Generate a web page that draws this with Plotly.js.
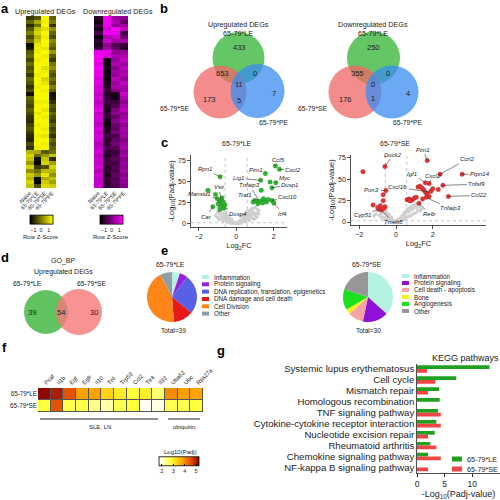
<!DOCTYPE html>
<html><head><meta charset="utf-8">
<script src="https://cdn.plot.ly/plotly-3.0.1.min.js"></script>
<style>html,body{margin:0;padding:0;background:#fff}#chart{width:500px;height:500px}</style>
</head><body><div id="chart"></div>
<script>
// ---------------- DATA ----------------
// a: heatmaps (row Z-scores), one array per column, rows top->bottom
const heatCols = ['Naive','65-79*LE','65-79*SE','65-79*PE'];
const upNaive = [-0.8,-0.3,-1.0,-0.5,0.0,-0.6,-0.2,-1.4,-1.2,-0.5,-0.3,-0.7,-0.2,-0.6,-0.4,-0.8,-0.3,-0.5,-0.9,-0.6,-1.3,-0.3,-0.5,-0.7,-0.4,-0.6,-0.9,-1.0,-0.7,-0.5,-0.8,-1.0,-1.1,-0.6,-0.9,0.6,1.0,0.8,0.3,1.0,0.2,0.9,0.6,1.0,0.8];
const upLE    = [-0.5,0.5,-0.2,0.8,1.0,0.6,0.9,1.2,1.3,1.3,1.4,1.3,1.4,1.4,1.4,1.3,1.4,1.4,1.3,1.4,1.4,1.4,1.3,1.4,1.4,1.2,1.4,1.4,1.3,1.4,1.4,1.3,1.4,1.4,1.3,0.5,-0.3,-1.3,-1.5,-0.8,-0.2,0.3,-1.4,-1.5,-0.6];
const upSE    = [1.4,1.3,1.4,1.1,1.4,1.3,1.4,1.4,1.2,1.4,1.3,1.4,1.4,1.1,1.3,1.4,1.0,1.2,1.4,1.3,1.4,1.4,1.3,1.4,1.2,1.4,1.3,1.4,1.4,1.3,1.4,1.2,1.4,1.3,1.4,-0.5,0.3,0.8,1.0,-0.6,0.7,1.2,0.5,0.9,1.1];
const upPE    = [-0.4,-0.1,-0.9,0.2,-0.3,-0.6,0.1,-0.2,-0.5,0.3,-0.4,-0.8,-0.1,0.2,-0.3,-0.6,-0.2,-0.5,0.0,-0.4,-1.3,-1.2,-0.9,-0.5,-0.7,-0.3,-0.6,-0.8,-0.4,-0.7,-0.5,-0.9,-0.3,-0.6,-0.4,-0.2,0.8,-1.0,0.4,1.0,0.6,0.2,0.8,0.4,0.9];
const dnNaive = [-1.0,-1.3,-0.8,-1.2,-0.6,-1.4,-0.9,-1.1,-0.7,1.2,1.4,1.3,1.1,1.4,1.2,1.3,1.0,1.2,0.9,1.1,0.8,1.0,0.7,0.9,1.2,0.8,1.0,0.9,0.7,1.1,0.8,1.0,0.9,0.6,0.8,1.0,0.7,0.9,0.8,1.0,0.6,0.9,0.7,0.8,0.9];
const dnLE    = [1.3,1.4,1.2,1.0,1.3,0.6,0.9,0.2,0.5,1.2,1.0,-1.3,-1.4,-1.2,-1.5,-1.3,-1.4,-1.2,-1.0,-0.8,-1.1,-0.9,-0.7,-1.0,-1.2,-0.8,-0.9,-1.3,-1.4,-1.1,-0.9,-0.7,-1.0,-0.8,-0.6,-0.9,-1.1,-0.8,-0.7,-1.0,-0.9,-1.2,-0.8,-1.0,-0.9];
const dnSE    = [0.3,0.6,0.2,1.4,1.3,0.9,0.4,-0.6,-0.3,0.2,0.5,0.3,0.6,0.1,0.4,0.2,0.7,0.3,0.5,0.1,-1.2,-1.3,-0.8,-0.5,0.0,0.2,-0.3,0.1,-0.2,-0.4,0.0,-0.6,-0.3,-0.1,-0.5,-0.8,-0.6,-0.4,-0.7,-0.5,-0.6,-0.3,-0.5,-0.4,-0.6];
const dnPE    = [0.2,-0.3,0.4,0.8,-0.7,-0.2,0.5,-0.8,-1.0,0.3,0.6,0.8,0.4,0.7,0.5,0.6,0.3,0.8,0.5,0.4,0.9,0.6,0.2,0.5,0.7,0.3,0.4,0.6,0.2,0.5,0.3,0.4,0.1,0.3,0.5,0.2,0.4,0.1,0.3,0.2,0.4,0.0,0.3,0.2,0.1];

// b: Venn counts (regions: LE only, LE&SE, LE&PE, all three, SE only, SE&PE, PE only)
const vennUpCounts   = [433,653,0,11,173,5,7];
const vennDownCounts = [250,355,0,0,176,1,4];

// c: volcano plots
const greyLx = [-0.05,0.1,-0.2,0.25,-0.35,0.4,-0.45,0.5,0.15,-0.15,0.3,-0.3,0.05,-0.5,0.55,-0.1,0.2,-0.25,0.35,-0.4,0.45,0.0,0.6,-0.55,0.7,-0.7,0.8,-0.8,0.9,1.0,-0.9,1.1,0.65,-0.65,0.75,0.85,0.95,1.05,-0.75,-0.6,0.3,-0.3,0.1,-0.1,0.5,-0.5,0.2,-0.2,0.4,-0.4,1.2,-1.0,0.55,-0.45,0.25,
  -1.1,-1.0,-0.9,-0.8,-0.7,-0.6,-0.5,-0.4,-0.3,-0.2,-0.1,0,0.1,0.2,0.3,0.4,0.5,0.6,0.7,0.8,0.9,1.0,1.1,1.2,-0.9,-0.7,-0.5,-0.3,-0.1,0.1,0.3,0.5,0.7,0.9,1.1,-0.8,-0.6,0.6,0.8,1.0];
const greyLy = [1,2,3,4,6,7,9,10,3,2,5,5,1,11,13,1,4,6,8,9,11,0.5,15,14,16,17,18,18,19,20,16,18,12,13,14,15,13,12,12,10,2,3,2,1,6,7,1,2,4,5,16,14,8,4,9,
  10,8,12,9,7,6,4,3,2,1.5,1,0.8,1,2,3,4,5,7,9,11,12,10,13,12,5,3,2,1,0.5,0.6,1.2,2.5,4,6,8,7,9,10,8,6];
const greenLx = [-0.85,-1.5,-1.24,-0.87,-1.0,-0.9,-0.8,-0.7,-0.65,-0.95,-0.75,-1.1,-0.85,-0.7,-0.6,1.55,2.08,2.3,1.3,1.8,2.1,1.9,1.33,1.0,1.1,1.2,1.3,1.4,1.5,1.6,1.7,1.9,2.0,1.15,1.45,0.9];
const greenLy = [56,40,20.6,17,30,25,28,22,19,24,31,35,20,26,23,60,69,65,52,50,49,43,40,28,27,26,27,25,28,26,29,28,25,24,30,26];
const labelsLE = ['Rpn1','Vsir','Mansid1','Car','Dusp4','Lig1','Tnfaip3','Traf1','Pim1','Ccl5','Cxcl2','Myc','Dusp1','Cxcl10','Irf4'];
const labelsLEx = [-0.85,-0.8,-1.0,-1.24,-0.6,1.3,1.2,1.0,1.55,2.08,2.3,2.1,1.9,1.9,2.0];
const labelsLEy = [56,28,30,20.6,19,52,28,27,60,69,65,49,43,28,25];

const greyRx = [-0.05,0.1,-0.2,0.25,-0.35,0.4,-0.45,0.5,0.15,-0.15,0.3,-0.3,0.05,-0.5,0.55,-0.1,0.2,-0.25,0.35,-0.4,0.45,0.0,0.6,-0.55,0.7,-0.7,0.8,-0.8,0.9,1.0,-0.9,1.1,0.65,-0.65,0.75,0.85,0.95,1.05,-0.75,-0.6,1.2,1.3,-1.0,0.3,-0.3,0.1,-0.1,0.5,-0.5,0.2,
  -1.1,-0.9,-0.7,-0.5,-0.3,-0.1,0.1,0.3,0.5,0.7,0.9,1.1,1.3,-0.8,-0.6,-0.4,-0.2,0,0.2,0.4,0.6,0.8,1.0,1.2,1.4,0.9,1.1,-1.2,-0.8,0.7];
const greyRy = [1,2,3,4,6,7,8,9,3,2,5,5,1,10,12,1,4,6,8,9,11,0.5,14,13,16,15,18,16,19,20,15,21,12,11,14,15,17,18,12,10,20,18,13,2,3,2,1,6,7,1,
  9,8,6,4,2,1,1,2,4,7,9,11,13,5,3,1.5,0.8,0.6,1.2,2.5,5,7,10,14,15,15,17,7,10,12];
const redRx = [-0.6,-1.8,1.7,2.4,3.6,2.55,2.85,1.6,1.8,-0.55,-0.7,-0.7,-1.25,-0.9,-1.0,-0.8,-0.6,-0.65,-0.85,0.6,0.7,0.8,0.9,1.0,1.1,1.2,1.3,1.4,1.5,1.6,1.7,1.8,1.9,2.0,2.3,1.25,1.45,1.65,0.75];
const redRy = [65,59,72,56,56,43,30,46,45,37,32,25,20,15,17,14,18,16,19,26,27,25,26,28,29,41,42,40,38,35,33,30,36,39,38,22,27,29,25];
const labelsSE = ['Dock2','Pim1','Ccrl2','Ptpn14','Tnfsf9','Ccl22','Igf1','Cxcl2','Cxcl16','Pon3','Tnfaip3','Relb','Cyp51','Tmeb5'];
const labelsSEx = [-0.6,1.7,2.4,3.6,2.55,2.85,1.6,1.8,1.85,-0.55,1.7,1.25,-0.9,-0.8];
const labelsSEy = [65,72,56,56,43,30,46,45,35,37,28,22,15,14];

// d: GO_BP Venn (LE only, both, SE only)
const goCounts = [39,54,30];

// e: pies
const pieLELabels = ['Inflammation','Protein signaling','DNA replication, translation, epigenetics','DNA damage and cell death','Cell Division','Other'];
const pieLECounts = [2,2,10,5,17,3];
const pieSELabels = ['Inflammation','Protein signaling','Cell death - apoptosis','Bone','Angiogenesis','Other'];
const pieSECounts = [11,5,3,1,4,6];

// f: heatmap Log10(Padj)
const fGenes = ['Pcaf','Il1b','Egf','Egfr','Il10','Tnf','Trp53','Ccl2','Tlr4','Il33','Uba52','Ubc','Rps27a'];
const fRows = ['65-79*LE','65-79*SE'];
const fLE = [5.2,5.0,4.5,3.8,3.8,3.3,3.0,2.8,3.0,2.5,4.0,3.8,3.8];
const fSE = [2.8,4.5,2.7,2.7,2.4,2.2,2.7,2.8,1.8,1.9,2.7,2.7,2.8];

// g: KEGG
const keggPathways = ['Systemic lupus erythematosus','Cell cycle','Mismatch repair','Homologous recombination','TNF signaling pathway','Cytokine-cytokine receptor interaction','Nucleotide excision repair','Rheumatoid arthritis','Chemokine signaling pathway','NF-kappa B signaling pathway'];
const keggLE = [13.1,7.1,4.0,4.1,3.8,3.5,3.2,2.4,2.0,0];
const keggSE = [1.8,3.3,2.0,0,4.3,4.3,2.0,3.5,4.3,2.0];

// ---------------- STYLE / LAYOUT ----------------
const FONT = 'Liberation Sans, Arial, sans-serif';
const W = 500, H = 500;
const px = v => v / W, py = v => 1 - v / H;
const dx = (a, b) => [px(a), px(b)];
const dy = (top, bot) => [py(bot), py(top)];

const pieLEColors = ['#B5F2E2','#9A1EE0','#5661E6','#E61818','#FF8519','#8F9EA6'];
const pieSEColors = ['#B5F2E2','#9112D6','#F5A3A3','#F3F322','#1BE01B','#979797'];

const ann = [];
const shapes = [];
function T(text, x, y, size, opts) {
  ann.push(Object.assign({text, x: px(x), y: py(y), xref: 'paper', yref: 'paper', showarrow: false,
    font: {size, color: '#222', family: FONT}, xanchor: 'center', yanchor: 'middle'}, opts || {}));
}
function circ(cx, cy, r, color, op) {
  shapes.push({type: 'circle', xref: 'paper', yref: 'paper', x0: px(cx - r), x1: px(cx + r), y0: py(cy + r), y1: py(cy - r),
    fillcolor: color, opacity: op, line: {width: 0}, layer: 'above'});
}
function rect(x0, y0, x1, y1, color) {
  shapes.push({type: 'rect', xref: 'paper', yref: 'paper', x0: px(x0), x1: px(x1), y0: py(y1), y1: py(y0), fillcolor: color, line: {width: 0}});
}
function hline(x0, x1, y) {
  shapes.push({type: 'line', xref: 'paper', yref: 'paper', x0: px(x0), x1: px(x1), y0: py(y), y1: py(y), line: {color: '#222', width: 1}});
}

// panel letters
[['a',5,8],['b',164,8],['c',164,142],['d',5,257],['e',164,250],['f',4,347],['g',221,350]].forEach(l =>
  T('<b>' + l[0] + '</b>', l[1], l[2], 13, {font: {size: 13, color: '#000', family: FONT}}));

// a titles
T('Upregulated DEGs', 45, 11, 7.2);
T('Downregulated DEGs', 118, 11, 7.2);
T('Row Z-Score', 41, 237, 6);
T('Row Z-Score', 111, 237, 6);

// b venns
const vennUpPos = [[239,48],[222,73],[255,73],[239,84],[209,100],[239,101],[274,94]];
const vennDnPos = [[373,48],[357,73],[388,73],[373,84],[345,100],[373,99],[408,94]];
circ(238.5, 58, 26, '#3FB83F', 0.8);
circ(220, 92, 26.5, '#F06565', 0.75);
circ(257.5, 91, 27, '#3A8CF2', 0.75);
circ(373.5, 58, 26.5, '#3FB83F', 0.8);
circ(355, 92, 26.5, '#F06565', 0.75);
circ(392, 92, 26.5, '#3A8CF2', 0.75);
vennUpCounts.forEach((v, i) => T(String(v), vennUpPos[i][0], vennUpPos[i][1], 7.5));
vennDownCounts.forEach((v, i) => T(String(v), vennDnPos[i][0], vennDnPos[i][1], 7.5));
T('Upregulated DEGs', 238, 24, 7.2); T('65-79*LE', 238, 33, 7.2);
T('Downregulated DEGs', 373, 24, 7.2); T('65-79*LE', 373, 33, 7.2);
T('65-79*SE', 175, 109, 6.8); T('65-79*PE', 274, 122, 6.8);
T('65-79*SE', 313, 109, 6.8); T('65-79*PE', 408, 122, 6.8);

// c titles
T('65-79*LE', 237, 143, 7);
T('65-79*SE', 395, 143, 7);

// d venn
T('GO_BP', 63, 261, 7); T('Upregulated DEGs', 63, 272, 7);
T('65-79*LE', 27, 283, 6.8); T('65-79*SE', 92, 283, 6.8);
circ(46, 312, 22, '#44B844', 0.85);
circ(79, 312, 23, '#F77878', 0.8);
[[32,312],[61,312],[94,312]].forEach((p, i) => T(String(goCounts[i]), p[0], p[1], 7.5));

// e titles / legends
T('65-79*LE', 170, 264, 6.8); T('65-79*SE', 367, 264, 6.8);
T('Total=' + pieLECounts.reduce((a, b) => a + b, 0), 173, 330, 6.5);
T('Total=' + pieSECounts.reduce((a, b) => a + b, 0), 368, 330, 6.5);
const legLEy = [277, 284.3, 291.6, 299, 306.3, 313.6];
pieLELabels.forEach((l, i) => { rect(202, legLEy[i] - 2, 209, legLEy[i] + 2, pieLEColors[i]); T(l, 212, legLEy[i], 6.3, {xanchor: 'left'}); });
const legSEy = [276, 283, 290, 297, 304, 311];
pieSELabels.forEach((l, i) => { rect(402, legSEy[i] - 2, 409, legSEy[i] + 2, pieSEColors[i]); T(l, 412, legSEy[i], 6.3, {xanchor: 'left'}); });

// f extras
hline(40, 158, 419); hline(168, 200, 419);
T('SLE, LN', 100, 427, 6); T('ubiquitin', 184, 427, 6);
T('Log10(Padj)', 180, 452, 6);
shapes.push({type: 'rect', xref: 'x5 domain', yref: 'y5 domain', x0: 0, x1: 1, y0: 0, y1: 1, fillcolor: '#555', line: {width: 0}, layer: 'below'});

// g extras
T('KEGG pathways', 465, 358, 9);
rect(452, 456.5, 462, 461.5, '#1FA01F'); T('65-79*LE', 465, 459, 7.2, {xanchor: 'left'});
rect(452, 466.5, 462, 471.5, '#F24444'); T('65-79*SE', 465, 469, 7.2, {xanchor: 'left'});

// volcano dotted threshold lines
['x3', 'x4'].forEach((xa, k) => {
  const ya = k ? 'y4' : 'y3';
  [-0.585, 0.585].forEach(v => shapes.push({type: 'line', xref: xa, yref: ya + ' domain', x0: v, x1: v, y0: 0, y1: 1, line: {color: '#aaa', width: 0.7, dash: 'dot'}, layer: 'below'}));
  shapes.push({type: 'line', xref: xa + ' domain', yref: ya, x0: 0, x1: 1, y0: 1.5, y1: 1.5, line: {color: '#aaa', width: 0.7, dash: 'dot'}, layer: 'below'});
});

// volcano gene labels (text offsets in px)
const offLE = [[-15,-8],[-2,-13],[-18,-5],[-6,10],[13,6],[-22,-2],[-9,-15],[-10,-6],[-9,-4],[3,-6],[14,1],[9,-5],[18,-3],[16,-3],[9,11]];
labelsLE.forEach((n, i) => ann.push({text: '<i>' + n + '</i>', x: labelsLEx[i], y: labelsLEy[i], xref: 'x3', yref: 'y3', ax: offLE[i][0], ay: offLE[i][1],
  showarrow: true, arrowhead: 0, arrowwidth: 0.6, arrowcolor: '#333', standoff: 0, font: {size: 6, color: '#222', family: FONT}}));
const offSE = [[8,-12],[-4,-11],[27,-15],[18,0],[34,-1],[31,-1],[-13,-9],[4,-8],[-32,-5],[-14,0],[23,10],[11,11],[-17,6],[12,12]];
labelsSE.forEach((n, i) => ann.push({text: '<i>' + n + '</i>', x: labelsSEx[i], y: labelsSEy[i], xref: 'x4', yref: 'y4', ax: offSE[i][0], ay: offSE[i][1],
  showarrow: true, arrowhead: 0, arrowwidth: 0.6, arrowcolor: '#333', standoff: 0, font: {size: 6, color: '#222', family: FONT}}));

// ---------------- TRACES ----------------
const rowsOf = cols => cols[0].map((_, r) => cols.map(c => c[r]));
const rowIdx = upNaive.map((_, i) => i);
const cbA = cx => ({orientation: 'h', x: px(cx), xanchor: 'center', y: py(223), yanchor: 'middle', len: 23, lenmode: 'pixels',
  thickness: 9, thicknessmode: 'pixels', tickvals: [-1, 0, 1], ticks: '', tickfont: {size: 5.5, family: FONT, color: '#222'},
  outlinewidth: 0.8, outlinecolor: '#000', xpad: 0, ypad: 0});
const traces = [
  {type: 'heatmap', x: heatCols, y: rowIdx, z: rowsOf([upNaive, upLE, upSE, upPE]), xaxis: 'x', yaxis: 'y', zmin: -1.5, zmax: 1.5,
   colorscale: [[0, '#000000'], [1, '#FFFF00']], colorbar: cbA(41), hoverinfo: 'none'},
  {type: 'heatmap', x: heatCols, y: rowIdx, z: rowsOf([dnNaive, dnLE, dnSE, dnPE]), xaxis: 'x2', yaxis: 'y2', zmin: -1.5, zmax: 1.5,
   colorscale: [[0, '#000000'], [1, '#FF00FF']], colorbar: cbA(111.5), hoverinfo: 'none'},
  {type: 'scatter', mode: 'markers', x: greyLx, y: greyLy, xaxis: 'x3', yaxis: 'y3', marker: {size: 3.5, color: '#cfcfcf'}, hoverinfo: 'none'},
  {type: 'scatter', mode: 'markers', x: greenLx, y: greenLy, xaxis: 'x3', yaxis: 'y3', marker: {size: 4.5, color: '#2DB82D', line: {width: 0.3, color: '#1a6a1a'}}, hoverinfo: 'none'},
  {type: 'scatter', mode: 'markers', x: greyRx, y: greyRy, xaxis: 'x4', yaxis: 'y4', marker: {size: 3.5, color: '#cfcfcf'}, hoverinfo: 'none'},
  {type: 'scatter', mode: 'markers', x: redRx, y: redRy, xaxis: 'x4', yaxis: 'y4', marker: {size: 4.5, color: '#E83333', line: {width: 0.3, color: '#8a1a1a'}}, hoverinfo: 'none'},
  {type: 'pie', labels: pieLELabels, values: pieLECounts, marker: {colors: pieLEColors, line: {width: 0}}, sort: false, direction: 'clockwise', rotation: 0,
   textinfo: 'none', hoverinfo: 'none', domain: {x: dx(147, 197), y: dy(272, 322)}, showlegend: false},
  {type: 'pie', labels: pieSELabels, values: pieSECounts, marker: {colors: pieSEColors, line: {width: 0}}, sort: false, direction: 'clockwise', rotation: 0,
   textinfo: 'none', hoverinfo: 'none', domain: {x: dx(343, 393), y: dy(272, 322)}, showlegend: false},
  {type: 'heatmap', x: fGenes, y: fRows, z: [fLE, fSE], xaxis: 'x5', yaxis: 'y5', zmin: 1.75, zmax: 5.25, xgap: 1, ygap: 1,
   colorscale: [[0, '#FFFFFF'], [0.3, '#FFFF3A'], [0.55, '#FFB000'], [0.8, '#E05000'], [1, '#8B0000']], hoverinfo: 'none',
   colorbar: {orientation: 'h', x: px(179), xanchor: 'center', y: py(467), yanchor: 'middle', len: 40, lenmode: 'pixels', thickness: 9, thicknessmode: 'pixels',
     tickvals: [2, 3, 4, 5], ticks: 'inside', ticklen: 2, tickcolor: '#000', tickfont: {size: 5.5, family: FONT, color: '#222'}, outlinewidth: 0.8, outlinecolor: '#000', xpad: 0, ypad: 0}},
  {type: 'bar', orientation: 'h', name: '65-79*LE', x: keggLE, y: keggPathways, xaxis: 'x6', yaxis: 'y6', marker: {color: '#1FA01F'}, hoverinfo: 'none'},
  {type: 'bar', orientation: 'h', name: '65-79*SE', x: keggSE, y: keggPathways, xaxis: 'x6', yaxis: 'y6', marker: {color: '#F24444'}, hoverinfo: 'none'}
];

const noAx = {showgrid: false, zeroline: false, showline: false, ticks: ''};
const tf = s => ({size: s, family: FONT, color: '#222'});
const volX = {showgrid: false, zeroline: false, showline: true, linecolor: '#222', linewidth: 0.8, ticks: 'outside', ticklen: 3, tickwidth: 0.8, tickcolor: '#222', tickfont: tf(7)};
const layout = {
  width: W, height: H, margin: {l: 0, r: 0, t: 0, b: 0}, paper_bgcolor: '#fff', plot_bgcolor: '#fff',
  showlegend: false, font: {family: FONT, color: '#222'}, barmode: 'group', bargap: 0.32, bargroupgap: 0,
  xaxis: Object.assign({domain: dx(26, 56), anchor: 'y', tickangle: -45, tickfont: tf(5.5)}, noAx),
  yaxis: Object.assign({domain: dy(16, 188), anchor: 'x', autorange: 'reversed', showticklabels: false}, noAx),
  xaxis2: Object.assign({domain: dx(94, 128), anchor: 'y2', tickangle: -45, tickfont: tf(5.5)}, noAx),
  yaxis2: Object.assign({domain: dy(16, 188), anchor: 'x2', autorange: 'reversed', showticklabels: false}, noAx),
  xaxis3: Object.assign({domain: dx(191, 287), anchor: 'y3', range: [-2.4, 2.7], tickvals: [-2, 0, 2],
    title: {text: 'Log<sub>2</sub>FC', font: tf(7.5), standoff: 3}}, volX),
  yaxis3: Object.assign({domain: dy(155, 227), anchor: 'x3', range: [-3.6, 82], tickvals: [0, 25, 50, 75],
    title: {text: '-Log<sub>10</sub>(Padj-value)', font: tf(7.5), standoff: 2}}, volX),
  xaxis4: Object.assign({domain: dx(351, 486), anchor: 'y4', range: [-2.45, 4.9], tickvals: [-2, 0, 2],
    title: {text: 'Log<sub>2</sub>FC', font: tf(7.5), standoff: 3}}, volX),
  yaxis4: Object.assign({domain: dy(155, 225), anchor: 'x4', range: [-3.5, 78.5], tickvals: [0, 25, 50, 75],
    title: {text: '-Log<sub>10</sub>(Padj-value)', font: tf(7.5), standoff: 2}}, volX),
  xaxis5: Object.assign({domain: dx(38, 203), anchor: 'y5', side: 'top', tickangle: -45, tickfont: tf(5.8)}, noAx),
  yaxis5: Object.assign({domain: dy(388, 412), anchor: 'x5', autorange: 'reversed', tickfont: tf(6.3)}, noAx),
  xaxis6: {domain: dx(417, 500), anchor: 'y6', range: [0, 15], tickvals: [0, 5, 10, 15], showgrid: false, zeroline: false, showline: true,
    linecolor: '#222', linewidth: 0.8, ticks: 'outside', ticklen: 3, tickcolor: '#222', tickfont: tf(8.5),
    title: {text: '-Log<sub>10</sub>(Padj-value)', font: tf(9), standoff: 3}},
  yaxis6: {domain: dy(363.5, 473), anchor: 'x6', autorange: 'reversed', showgrid: false, zeroline: false, showline: true, linecolor: '#222', linewidth: 0.8,
    ticks: '', tickfont: tf(9.6), tickmode: 'array', tickvals: keggPathways, ticktext: keggPathways},
  annotations: ann, shapes: shapes
};
Plotly.newPlot('chart', traces, layout, {staticPlot: true, displayModeBar: false});
</script></body></html>
